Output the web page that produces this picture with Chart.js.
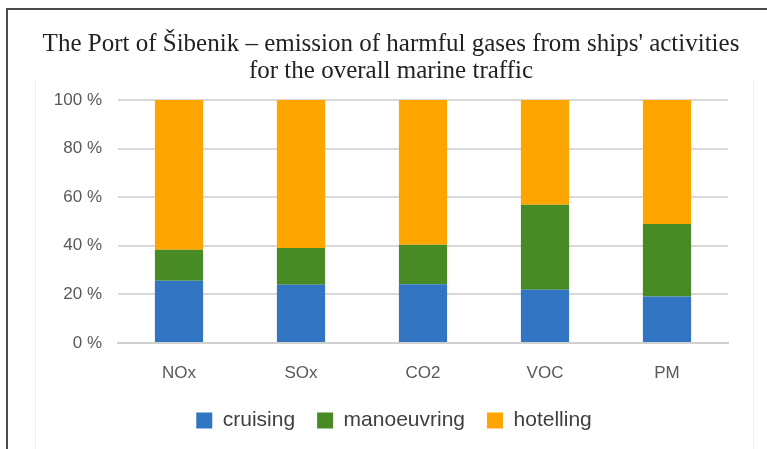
<!DOCTYPE html>
<html>
<head>
<meta charset="utf-8">
<script src="https://cdn.jsdelivr.net/npm/chart.js@4"></script>
<style>
  html, body { margin: 0; padding: 0; background: #fff; }
  body { width: 767px; height: 449px; position: relative; overflow: hidden; }
  #frame { position: absolute; left: 6px; top: 8px; width: 800px; height: 500px;
           border-left: 2px solid #4a4a4a; border-top: 2px solid #4a4a4a; }
  #inner { position: absolute; left: 35px; top: 80px; width: 717px; height: 400px;
           border-left: 1px solid #eeeeee; border-right: 1px solid #eeeeee; }
  #wrap { position: absolute; left: 0; top: 0; width: 767px; height: 449px; }
</style>
</head>
<body>
<div id="frame"></div>
<div id="inner"></div>
<div id="wrap"><canvas id="c"></canvas></div>
<script>
const categories = ['NOx', 'SOx', 'CO2', 'VOC', 'PM'];
const cruising = [25.6, 24.0, 24.2, 21.9, 19.1];
const manoeuvring = [12.8, 15.1, 16.2, 35.0, 29.9];
const hotelling = [61.6, 60.9, 59.6, 43.1, 51.0];
const yTicks = [0, 20, 40, 60, 80, 100];
const titleLines = ["The Port of Šibenik – emission of harmful gases from ships' activities", 'for the overall marine traffic'];

const tickFont = { family: "'Liberation Sans', Arial, sans-serif", size: 17 };

const titlePlugin = {
  id: 'serifTitle',
  afterDraw(chart) {
    const ctx = chart.ctx;
    ctx.save();
    ctx.font = "25px 'Liberation Serif', 'Times New Roman', serif";
    ctx.fillStyle = '#222222';
    ctx.textAlign = 'center';
    ctx.textBaseline = 'alphabetic';
    ctx.fillText(titleLines[0], 391, 51);
    ctx.fillText(titleLines[1], 391, 78);
    ctx.restore();
  }
};

new Chart(document.getElementById('c'), {
  type: 'bar',
  data: {
    labels: categories,
    datasets: [
      { label: 'cruising', data: cruising, backgroundColor: '#3275c3' },
      { label: 'manoeuvring', data: manoeuvring, backgroundColor: '#488a24' },
      { label: 'hotelling', data: hotelling, backgroundColor: '#ffa500' }
    ]
  },
  plugins: [titlePlugin],
  options: {
    responsive: true,
    maintainAspectRatio: false,
    animation: false,
    devicePixelRatio: 1,
    layout: { padding: { left: 21, right: 0, top: 100, bottom: 8 } },
    datasets: { bar: { categoryPercentage: 1, barPercentage: 0.395 } },
    plugins: {
      title: { display: false },
      legend: {
        position: 'bottom',
        labels: {
          color: '#404040',
          font: { family: "'Liberation Sans', Arial, sans-serif", size: 21 },
          boxWidth: 16, boxHeight: 16, padding: 22
        }
      },
      tooltip: { enabled: false }
    },
    scales: {
      x: {
        stacked: true,
        grid: { display: false, drawTicks: false },
        border: { display: true, color: '#d0d0d0', width: 2 },
        ticks: { color: '#595959', font: tickFont, padding: 20 },
        afterFit: (s) => { s.height = 45; }
      },
      y: {
        stacked: true,
        min: 0, max: 100,
        afterBuildTicks: (s) => { s.ticks = yTicks.map(v => ({ value: v })); },
        grid: { color: '#d9d9d9', lineWidth: 2, drawTicks: false },
        border: { display: false },
        ticks: { color: '#595959', font: tickFont, padding: 16, callback: (v) => v + ' %' },
        afterFit: (s) => { s.width = 97; }
      },
      yR: {
        position: 'right',
        display: true,
        grid: { display: false, drawTicks: false },
        border: { display: false },
        ticks: { display: false },
        afterFit: (s) => { s.width = 39; }
      }
    }
  }
});
</script>
</body>
</html>
